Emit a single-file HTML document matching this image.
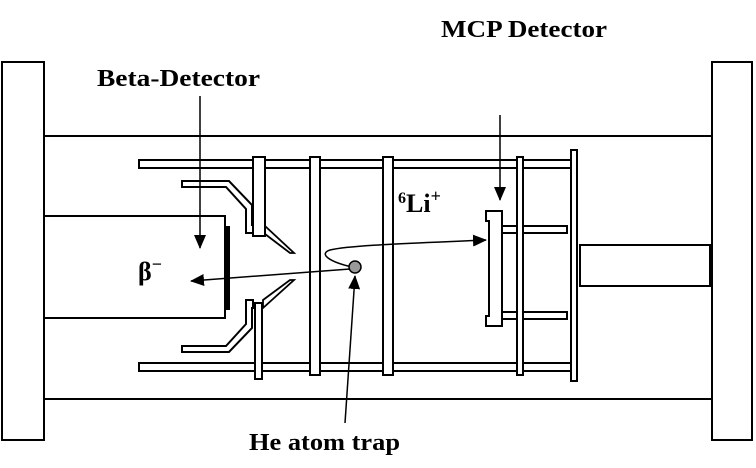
<!DOCTYPE html>
<html><head><style>body{margin:0;background:#fff}svg{display:block}text{font-family:"Liberation Serif","Times New Roman",serif;font-weight:bold}</style></head><body>
<svg width="756" height="468" viewBox="0 0 756 468" xmlns="http://www.w3.org/2000/svg">
<defs><marker id="b" markerWidth="14" markerHeight="12" refX="13" refY="6" orient="auto" markerUnits="userSpaceOnUse"><path d="M0,0L14,6L0,12z" fill="#000"/></marker></defs>
<g fill="#fff" stroke="#000" stroke-width="2">
<rect x="2" y="62" width="42" height="378"/>
<rect x="712" y="62" width="40" height="378"/>
<line x1="44" y1="136" x2="712" y2="136"/>
<line x1="44" y1="399" x2="712" y2="399"/>
<polyline points="44,216 225,216 225,318 44,318" fill="none"/>
<rect x="580" y="245" width="130" height="41"/>
<rect x="139" y="160" width="436" height="8"/>
<rect x="139" y="363" width="436" height="8"/>
<polygon points="182,187 226,187 246,209 246,233 253,233 253,225 252,225 252,205 229,181 182,181" stroke-width="2"/>
<polygon points="182,346 226,346 246,324 246,300 253,300 253,308 252,308 252,328 229,352 182,352" stroke-width="2"/>
<polygon points="265,226 294,253 290,253 265,234" stroke-width="1.8"/>
<polygon points="263,308 294,280 290,280 263,300" stroke-width="1.8"/>
<rect x="253" y="157" width="12" height="79"/>
<rect x="255" y="303" width="7" height="76"/>
<rect x="310" y="157" width="10" height="218"/>
<rect x="383" y="157" width="10" height="218"/>
<rect x="502" y="226" width="65" height="7"/>
<rect x="502" y="312" width="65" height="7"/>
<rect x="517" y="157" width="6" height="218"/>
<rect x="571" y="150" width="6" height="231"/>
<polygon points="486,211 502,211 502,326 486,326 486,316 489,316 489,221 486,221"/>
</g>
<rect x="225" y="226" width="5" height="84" fill="#000"/>
<g stroke="#000" stroke-width="1.5" fill="none">
<line x1="200" y1="96" x2="200" y2="248" marker-end="url(#b)"/>
<line x1="500" y1="115" x2="500" y2="200" marker-end="url(#b)"/>
<line x1="350" y1="269" x2="191" y2="281" marker-end="url(#b)"/>
<path d="M352,267 C330,262 318,254 330,250 C350,245 420,243 486,240" marker-end="url(#b)"/>
<line x1="345" y1="423" x2="355" y2="276" marker-end="url(#b)"/>
</g>
<circle cx="355" cy="267" r="6" fill="#999" stroke="#000" stroke-width="1.5"/>
<g font-size="24" fill="#000">
<text x="441" y="37" textLength="166" lengthAdjust="spacingAndGlyphs">MCP Detector</text>
<text x="97" y="86" textLength="163" lengthAdjust="spacingAndGlyphs">Beta-Detector</text>
<text x="249" y="450" textLength="151" lengthAdjust="spacingAndGlyphs">He atom trap</text>
<text x="138" y="280" font-size="26">β<tspan font-size="18" dy="-10">−</tspan></text>
<text x="398" y="212" font-size="26"><tspan font-size="16" dy="-9">6</tspan><tspan dy="9">Li</tspan><tspan font-size="18" dy="-10">+</tspan></text>
</g>
</svg>
</body></html>
